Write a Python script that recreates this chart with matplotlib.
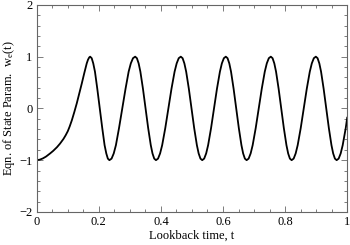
"""Equation-of-state parameter versus lookback time."""

import matplotlib

matplotlib.use("Agg")
import matplotlib.pyplot as plt
from matplotlib.ticker import MultipleLocator

# values
lookback_t = [
    0.000, 0.010, 0.020, 0.030, 0.043, 0.053, 0.065, 0.075, 0.086, 0.093, 0.100,
    0.106, 0.113, 0.121, 0.129, 0.137, 0.145, 0.153, 0.161, 0.165, 0.169,
    0.172, 0.177, 0.182, 0.1875, 0.195, 0.203, 0.211, 0.2185, 0.224, 0.229,
    0.234, 0.241, 0.248, 0.255, 0.265, 0.2755, 0.286, 0.296, 0.303, 0.310,
    0.317, 0.3226, 0.3282, 0.3338, 0.3421, 0.3505, 0.3589, 0.3673, 0.3728, 0.3784,
    0.384, 0.3907, 0.3973, 0.404, 0.414, 0.424, 0.434, 0.444, 0.4507, 0.4573,
    0.464, 0.4698, 0.4755, 0.4813, 0.4899, 0.4985, 0.5071, 0.5158, 0.5215, 0.5273,
    0.533, 0.5393, 0.5457, 0.552, 0.5615, 0.571, 0.5805, 0.590, 0.5963, 0.6027,
    0.609, 0.6146, 0.6202, 0.6258, 0.6341, 0.6425, 0.6509, 0.6593, 0.6648, 0.6704,
    0.676, 0.6825, 0.689, 0.6955, 0.7053, 0.715, 0.7248, 0.7345, 0.741, 0.7475,
    0.754, 0.7596, 0.7652, 0.7708, 0.7791, 0.7875, 0.7959, 0.8043, 0.8098, 0.8154,
    0.821, 0.8275, 0.834, 0.8405, 0.8503, 0.860, 0.8698, 0.8795, 0.886, 0.8925,
    0.899, 0.9046, 0.9102, 0.9158, 0.9241, 0.9325, 0.9409, 0.9493, 0.9548, 0.9604,
    0.966, 0.9725, 0.979, 0.9855, 0.9953, 1.000,
]
w_eos = [
    -1.00, -0.99, -0.965, -0.93, -0.87, -0.82, -0.75, -0.68, -0.59, -0.52, -0.44,
    -0.35, -0.23, -0.07, 0.10, 0.29, 0.48, 0.68, 0.87, 0.94, 0.985,
    1.00, 0.97, 0.87, 0.71, 0.38, 0.00, -0.38, -0.71, -0.87, -0.97,
    -1.00, -0.97, -0.87, -0.71, -0.38, 0.00, 0.38, 0.71, 0.87, 0.97,
    1.00, 0.97, 0.87, 0.71, 0.38, 0.00, -0.38, -0.71, -0.87, -0.97,
    -1.00, -0.97, -0.87, -0.71, -0.38, 0.00, 0.38, 0.71, 0.87, 0.97,
    1.00, 0.97, 0.87, 0.71, 0.38, 0.00, -0.38, -0.71, -0.87, -0.97,
    -1.00, -0.97, -0.87, -0.71, -0.38, 0.00, 0.38, 0.71, 0.87, 0.97,
    1.00, 0.97, 0.87, 0.71, 0.38, 0.00, -0.38, -0.71, -0.87, -0.97,
    -1.00, -0.97, -0.87, -0.71, -0.38, 0.00, 0.38, 0.71, 0.87, 0.97,
    1.00, 0.97, 0.87, 0.71, 0.38, 0.00, -0.38, -0.71, -0.87, -0.97,
    -1.00, -0.97, -0.87, -0.71, -0.38, 0.00, 0.38, 0.71, 0.87, 0.97,
    1.00, 0.97, 0.87, 0.71, 0.38, 0.00, -0.38, -0.71, -0.87, -0.97,
    -1.00, -0.97, -0.87, -0.71, -0.38, -0.18,
]
x_ticks = [0, 0.2, 0.4, 0.6, 0.8, 1]
x_tick_labels = ["0", "0.2", "0.4", "0.6", "0.8", "1"]
y_ticks = [-2, -1, 0, 1, 2]

FRAME = "#666666"

plt.rcParams.update(
    {
        "font.family": "Liberation Serif",
        "font.size": 9,
        "mathtext.fontset": "custom",
        "mathtext.rm": "Liberation Serif",
        "mathtext.it": "Liberation Serif:italic",
        "axes.linewidth": 0.8,
        "axes.edgecolor": FRAME,
        "xtick.color": FRAME,
        "ytick.color": FRAME,
        "xtick.labelcolor": "black",
        "ytick.labelcolor": "black",
    }
)

fig = plt.figure(figsize=(3.5, 2.45), dpi=100)
ax = fig.add_axes([0.105, 0.135, 0.887, 0.845])

ax.plot(lookback_t, w_eos, color="black", linewidth=1.3, solid_joinstyle="round")

ax.set_xlim(0, 1)
ax.set_ylim(-2, 2)
ax.set_xticks(x_ticks, x_tick_labels)
ax.set_yticks(y_ticks, [str(v) if v >= 0 else "\u2212" + str(-v) for v in y_ticks])
ax.xaxis.set_minor_locator(MultipleLocator(0.05))
ax.yaxis.set_minor_locator(MultipleLocator(0.2))
ax.tick_params(which="both", direction="in", top=True, right=True, width=0.6)
ax.tick_params(which="major", length=4, pad=3)
ax.tick_params(which="minor", length=2)

ax.set_xlabel("Lookback time, t", labelpad=1)
ax.set_ylabel(r"Eqn. of State Param.  w$_\mathrm{e}$(t)", labelpad=2)

fig.savefig("out.png", dpi=100)
